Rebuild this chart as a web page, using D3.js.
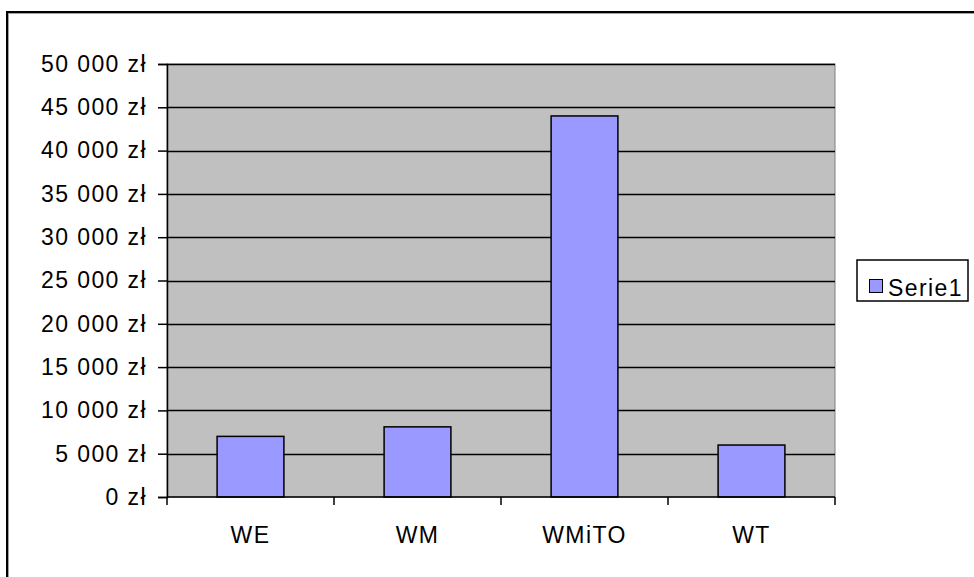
<!DOCTYPE html>
<html>
<head>
<meta charset="utf-8">
<script src="https://cdn.jsdelivr.net/npm/d3@7"></script>
<style>
  html, body { margin: 0; padding: 0; background: #fff; }
  svg { display: block; }
  text { font-family: Arial, "Liberation Sans", sans-serif; fill: #000; }
</style>
</head>
<body>
<svg id="chart" width="974" height="577"></svg>
<script>
const categories = ["WE", "WM", "WMiTO", "WT"];
const values = [7000, 8100, 44000, 6000];
const seriesName = "Serie1";
const yTicks = [0, 5000, 10000, 15000, 20000, 25000, 30000, 35000, 40000, 45000, 50000];

const svg = d3.select("#chart");
const plot = { left: 167, right: 835, top: 64, bottom: 497 };
const FS = 23, LS = "1.4px";

// outer chart border (extends beyond the visible frame)
svg.append("rect").attr("x", 8.5).attr("y", 13.5).attr("width", 1000).attr("height", 600)
  .attr("fill", "none").attr("stroke", "#a0a0a0").attr("stroke-width", 1);
svg.append("rect").attr("x", 7).attr("y", 12).attr("width", 1000).attr("height", 600)
  .attr("fill", "none").attr("stroke", "#000").attr("stroke-width", 2);

const x = d3.scaleBand().domain(categories).range([plot.left, plot.right]).paddingInner(0).paddingOuter(0);
const y = d3.scaleLinear().domain([0, 50000]).range([plot.bottom, plot.top]);

// plot area
svg.append("rect").attr("x", plot.left).attr("y", plot.top)
  .attr("width", plot.right - plot.left).attr("height", plot.bottom - plot.top)
  .attr("fill", "#c0c0c0").attr("stroke", "#808080").attr("stroke-width", 1);

// gridlines
svg.append("g").selectAll("line").data(yTicks.filter(d => d > 0)).join("line")
  .attr("x1", plot.left).attr("x2", plot.right)
  .attr("y1", d => Math.round(y(d)) + 0.5).attr("y2", d => Math.round(y(d)) + 0.5)
  .attr("stroke", "#000").attr("stroke-width", 1.3);

// bars
const barW = x.bandwidth() / 2.5;
svg.append("g").selectAll("rect").data(values).join("rect")
  .attr("x", (d, i) => x(categories[i]) + (x.bandwidth() - barW) / 2)
  .attr("y", d => y(d))
  .attr("width", barW)
  .attr("height", d => plot.bottom - y(d))
  .attr("fill", "#9999ff").attr("stroke", "#000").attr("stroke-width", 1.5);

// y axis
const fmt = d => d3.format(",")(d).replace(/,/g, "\u00a0") + " zł";
const yAxis = d3.axisLeft(y).tickValues(yTicks).tickSize(9).tickPadding(11).tickFormat(fmt);
const gy = svg.append("g").attr("transform", `translate(${plot.left},0)`).call(yAxis);
gy.select(".domain").attr("stroke", "#000").attr("stroke-width", 1.5);
gy.selectAll(".tick line").attr("stroke", "#000").attr("stroke-width", 1.5);
gy.selectAll(".tick text").attr("font-size", FS).attr("letter-spacing", LS)
  .attr("font-family", "Arial, 'Liberation Sans', sans-serif").attr("fill", "#000");

// x axis with ticks at category boundaries
const gx = svg.append("g").attr("transform", `translate(0,${plot.bottom})`);
gx.append("line").attr("x1", plot.left).attr("x2", plot.right).attr("y1", 0).attr("y2", 0)
  .attr("stroke", "#000").attr("stroke-width", 1.5);
const bounds = categories.map(c => x(c)).concat([x.range()[1]]);
gx.selectAll("line.tk").data(bounds).join("line").attr("class", "tk")
  .attr("x1", d => d).attr("x2", d => d).attr("y1", 0).attr("y2", 8)
  .attr("stroke", "#000").attr("stroke-width", 1.5);
gx.selectAll("text").data(categories).join("text")
  .attr("x", d => x(d) + x.bandwidth() / 2).attr("y", 46)
  .attr("text-anchor", "middle").attr("font-size", FS).attr("letter-spacing", LS)
  .text(d => d);

// legend
const lg = svg.append("g");
lg.append("rect").attr("x", 857).attr("y", 260).attr("width", 111).attr("height", 41)
  .attr("fill", "#fff").attr("stroke", "#000").attr("stroke-width", 1.5);
lg.append("rect").attr("x", 869.5).attr("y", 279.5).attr("width", 13).attr("height", 13)
  .attr("fill", "#9999ff").attr("stroke", "#000").attr("stroke-width", 1);
lg.append("text").attr("x", 888).attr("y", 296).attr("font-size", FS).attr("letter-spacing", LS)
  .text(seriesName);
</script>
</body>
</html>
